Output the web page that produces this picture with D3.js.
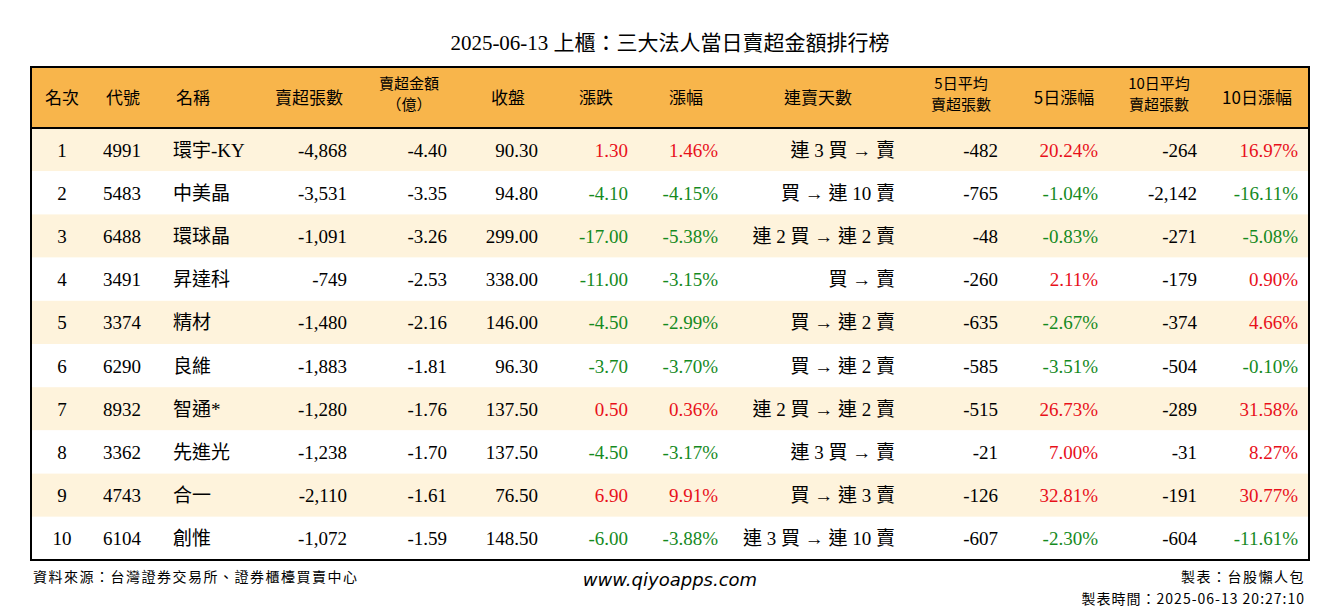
<!DOCTYPE html>
<html><head><meta charset="utf-8">
<script src="https://cdn.jsdelivr.net/npm/d3@7"></script>
<style>body{margin:0;background:#fff}</style>
</head><body><svg id="c" width="1340" height="612"></svg>
<script>
var ranks = [1,2,3,4,5,6,7,8,9,10];
var codes = ['4991','5483','6488','3491','3374','6290','8932','3362','4743','6104'];
var names = ['環宇-KY','中美晶','環球晶','昇達科','精材','良維','智通*','先進光','合一','創惟'];
var sellLots = [-4868,-3531,-1091,-749,-1480,-1883,-1280,-1238,-2110,-1072];
var sellAmt = [-4.40,-3.35,-3.26,-2.53,-2.16,-1.81,-1.76,-1.70,-1.61,-1.59];
var closes = [90.30,94.80,299.00,338.00,146.00,96.30,137.50,137.50,76.50,148.50];
var changes = [1.30,-4.10,-17.00,-11.00,-4.50,-3.70,0.50,-4.50,6.90,-6.00];
var pcts = [1.46,-4.15,-5.38,-3.15,-2.99,-3.70,0.36,-3.17,9.91,-3.88];
var streaks = ['連 3 買 → 賣','買 → 連 10 賣','連 2 買 → 連 2 賣','買 → 賣','買 → 連 2 賣','買 → 連 2 賣','連 2 買 → 連 2 賣','連 3 買 → 賣','買 → 連 3 賣','連 3 買 → 連 10 賣'];
var avg5 = [-482,-765,-48,-260,-635,-585,-515,-21,-126,-607];
var pct5 = [20.24,-1.04,-0.83,2.11,-2.67,-3.51,26.73,7.00,32.81,-2.30];
var avg10 = [-264,-2142,-271,-179,-374,-504,-289,-31,-191,-604];
var pct10 = [16.97,-16.11,-5.08,0.90,4.66,-0.10,31.58,8.27,30.77,-11.61];
var headers = [['名次'],['代號'],['名稱'],['賣超張數'],['賣超金額','（億）'],['收盤'],['漲跌'],['漲幅'],['連賣天數'],['5日平均','賣超張數'],['5日漲幅'],['10日平均','賣超張數'],['10日漲幅']];

var serif = '"Liberation Serif","Noto Sans CJK TC",serif';
var cjk = '"Noto Sans CJK TC",sans-serif';
var RED = '#e8101a', GREEN = '#158a1e';
var loc = d3.formatLocale({decimal: '.', thousands: ',', grouping: [3], currency: ['', ''], minus: '-'});
var fmtInt = loc.format(',d'), fmt2 = loc.format('.2f');
var sign = function (v) { return v > 0 ? RED : v < 0 ? GREEN : '#000'; };

var cols = [
  {x: 62, a: 'middle', v: function (i) { return ranks[i]; }},
  {x: 103, a: 'start', v: function (i) { return codes[i]; }},
  {x: 173, a: 'start', v: function (i) { return names[i]; }},
  {x: 347, a: 'end', v: function (i) { return fmtInt(sellLots[i]); }},
  {x: 447, a: 'end', v: function (i) { return fmt2(sellAmt[i]); }},
  {x: 538, a: 'end', v: function (i) { return fmt2(closes[i]); }},
  {x: 628, a: 'end', v: function (i) { return fmt2(changes[i]); }, c: function (i) { return sign(changes[i]); }},
  {x: 718, a: 'end', v: function (i) { return fmt2(pcts[i]) + '%'; }, c: function (i) { return sign(pcts[i]); }},
  {x: 895, a: 'end', v: function (i) { return streaks[i]; }},
  {x: 998, a: 'end', v: function (i) { return fmtInt(avg5[i]); }},
  {x: 1098, a: 'end', v: function (i) { return fmt2(pct5[i]) + '%'; }, c: function (i) { return sign(pct5[i]); }},
  {x: 1197, a: 'end', v: function (i) { return fmtInt(avg10[i]); }},
  {x: 1298, a: 'end', v: function (i) { return fmt2(pct10[i]) + '%'; }, c: function (i) { return sign(pct10[i]); }}
];
var headX = [62, 123, 193, 309, 409, 508, 596, 686, 818, 961, 1064, 1159, 1257];

var svg = d3.select('#c');
var tLeft = 31, tRight = 1309, tTop = 67, tBottom = 560, headH = 61;
var y = d3.scaleBand().domain(d3.range(ranks.length)).range([tTop + headH, tBottom]);

svg.append('text').attr('x', 670).attr('y', 50).attr('text-anchor', 'middle')
  .attr('font-family', serif).attr('font-size', 21).text('2025-06-13 上櫃：三大法人當日賣超金額排行榜');

svg.append('rect').attr('x', tLeft).attr('y', tTop).attr('width', tRight - tLeft).attr('height', headH).attr('fill', '#f8b54b');

var rows = svg.selectAll('.row').data(d3.range(ranks.length)).enter().append('g').attr('class', 'row');
rows.append('rect').attr('x', tLeft).attr('y', function (i) { return y(i); })
  .attr('width', tRight - tLeft).attr('height', y.bandwidth())
  .attr('fill', function (i) { return i % 2 === 0 ? '#fef3dc' : '#ffffff'; });

cols.forEach(function (col) {
  rows.append('text').attr('x', col.x).attr('y', function (i) { return y(i) + y.bandwidth() / 2 + 7; })
    .attr('text-anchor', col.a).attr('font-family', serif).attr('font-size', 19)
    .attr('fill', function (i) { return col.c ? col.c(i) : '#000'; })
    .text(function (i) { return col.v(i); });
});

headers.forEach(function (h, k) {
  h.forEach(function (line, j) {
    var yy = h.length === 1 ? tTop + headH / 2 + 6 : tTop + 22 + j * 21;
    svg.append('text').attr('text-anchor', 'middle').attr('font-family', cjk)
      .attr('font-size', h.length === 1 ? 17 : 15).attr('x', headX[k]).attr('y', yy).text(line);
  });
});

svg.append('line').attr('x1', tLeft).attr('x2', tRight).attr('y1', tTop + headH).attr('y2', tTop + headH).attr('stroke', '#000').attr('stroke-width', 2);
svg.append('rect').attr('x', tLeft).attr('y', tTop).attr('width', tRight - tLeft).attr('height', tBottom - tTop)
  .attr('fill', 'none').attr('stroke', '#000').attr('stroke-width', 2);

svg.append('text').attr('x', 33).attr('y', 582).attr('font-family', cjk).attr('font-size', 14).attr('letter-spacing', 1.5).text('資料來源：台灣證券交易所、證券櫃檯買賣中心');
svg.append('text').attr('x', 670).attr('y', 586).attr('text-anchor', 'middle').attr('font-family', '"DejaVu Sans",sans-serif')
  .attr('font-style', 'italic').attr('font-size', 18).text('www.qiyoapps.com');
svg.append('text').attr('x', 1305).attr('y', 582).attr('text-anchor', 'end').attr('font-family', cjk).attr('font-size', 14).attr('letter-spacing', 1.5).text('製表：台股懶人包');
svg.append('text').attr('x', 1305).attr('y', 604).attr('text-anchor', 'end').attr('font-family', cjk).attr('font-size', 14).attr('letter-spacing', 1).text('製表時間：2025-06-13 20:27:10');
</script></body></html>
